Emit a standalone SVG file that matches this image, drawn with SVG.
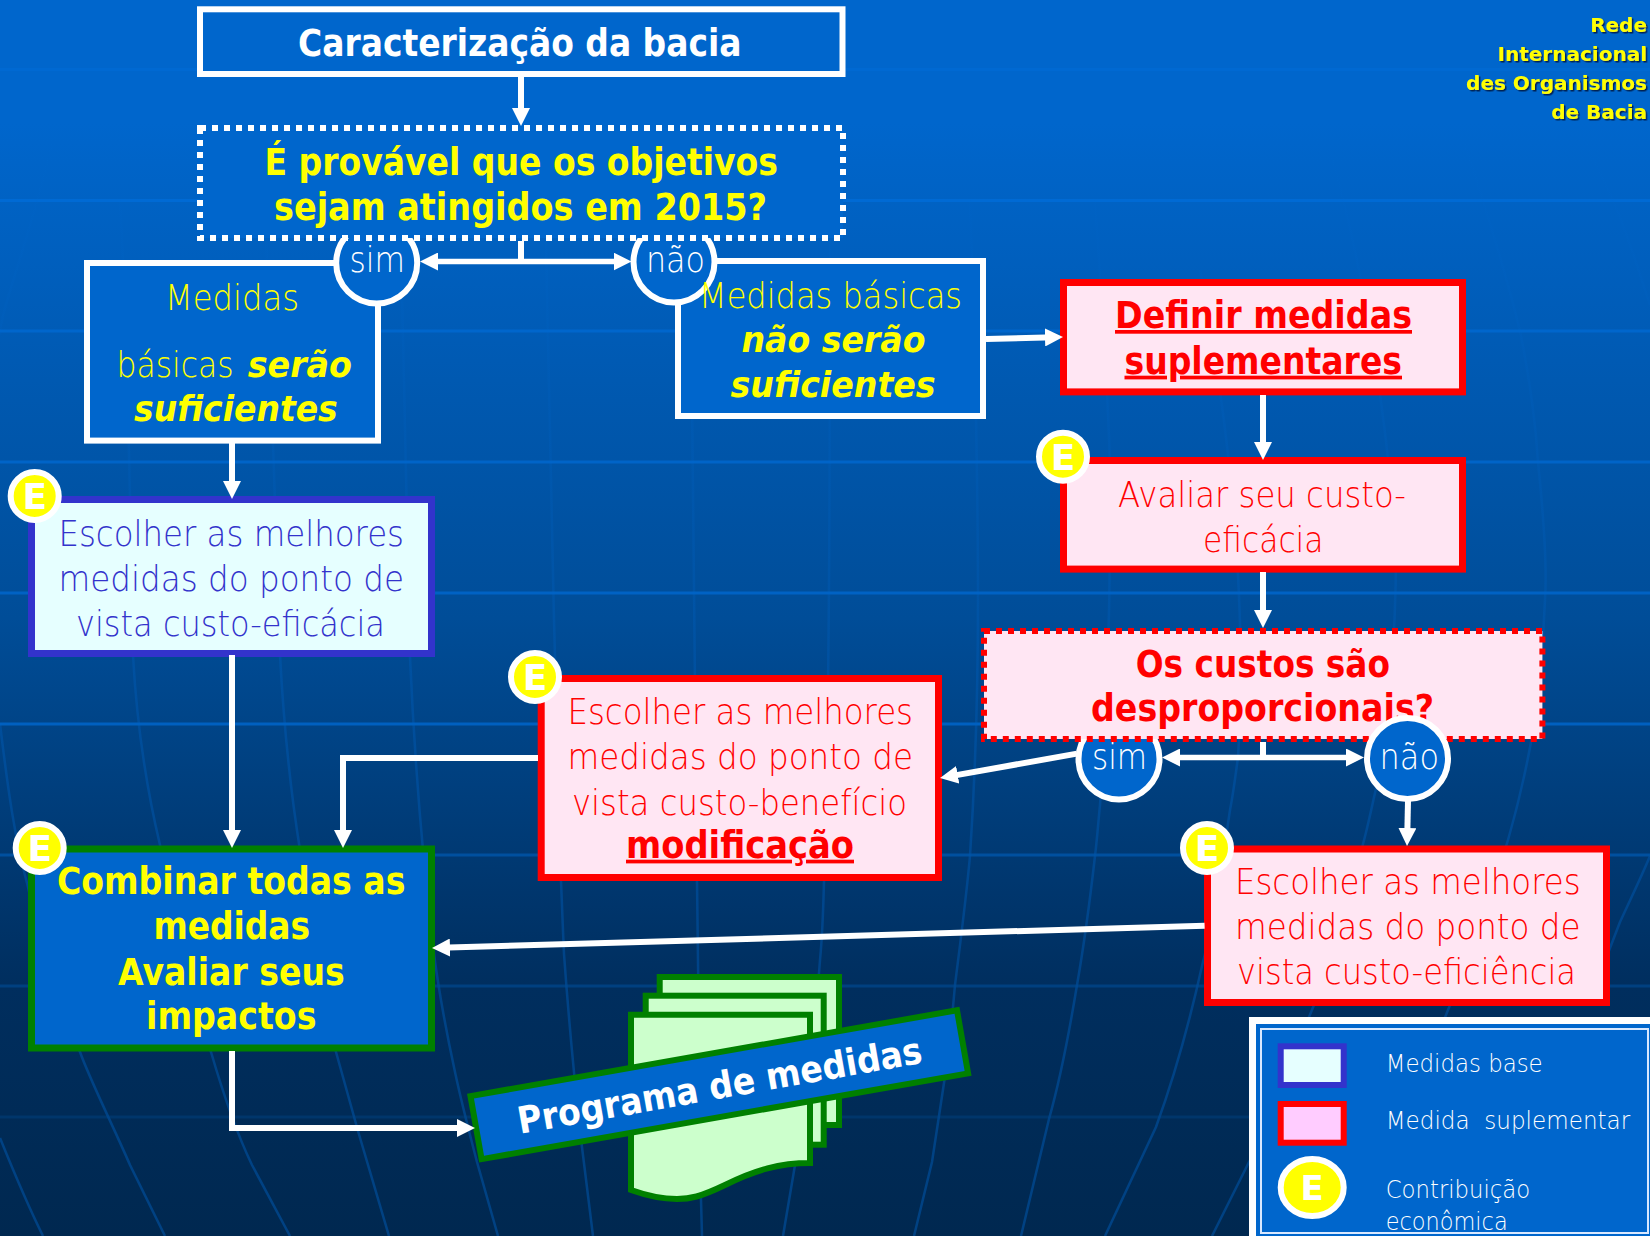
<svg xmlns="http://www.w3.org/2000/svg" width="1650" height="1236" viewBox="0 0 1650 1236">
<style>
text{font-family:"DejaVu Sans","Liberation Sans",sans-serif}
.b{font-weight:700;font-size:37px}
.l{font-weight:200;font-size:35px}
.bi{font-weight:700;font-style:italic;font-size:36px}
.w{fill:#fff}.y{fill:#ffff00}.r{fill:#ff0000}.p{fill:#3333cc}
.u{text-decoration:underline}
.bluebox{fill:#0066cc;stroke:#fff;stroke-width:6}
.redbox{fill:#ffe6f3;stroke:#ff0000;stroke-width:7}
.cir{fill:#0066cc;stroke:#fff;stroke-width:6}
.badge{fill:#ffff00;stroke:#fff;stroke-width:6}
.et{font-weight:700;font-size:36px;fill:#fff;text-anchor:middle}
.con{fill:none;stroke:#fff;stroke-width:6;stroke-linejoin:miter}
.arr{marker-end:url(#ah)}
.dbl{marker-end:url(#ah);marker-start:url(#ahs);stroke-width:5.5}
.hl{stroke-width:3;fill:none}
.mer{fill:none;stroke:url(#mg);stroke-width:2.5}
.doc{fill:#ccffcc;stroke:#008000;stroke-width:6}
.leg{font-weight:200;font-size:25px;fill:#ffffff}
.rd{font-size:20px;font-weight:700;fill:#ffff00;text-anchor:end}
</style>
<defs>
<linearGradient id="bg" x1="0" y1="0" x2="0" y2="1"><stop offset="0" stop-color="#0066cc"/><stop offset="0.1" stop-color="#0066cc"/><stop offset="0.5" stop-color="#004d98"/><stop offset="0.8" stop-color="#002e5e"/><stop offset="1" stop-color="#002850"/></linearGradient>
<linearGradient id="mg" gradientUnits="userSpaceOnUse" x1="0" y1="100" x2="0" y2="1236"><stop offset="0" stop-color="#0066cc" stop-opacity="0.05"/><stop offset="0.35" stop-color="#0066cc" stop-opacity="0.18"/><stop offset="0.55" stop-color="#0060c0" stop-opacity="0.35"/><stop offset="0.75" stop-color="#004c98" stop-opacity="0.7"/><stop offset="1" stop-color="#004488" stop-opacity="0.9"/></linearGradient>
<marker id="ah" markerUnits="userSpaceOnUse" markerWidth="18" markerHeight="18" viewBox="0 0 18 18" refX="10" refY="9" orient="auto"><path d="M0,0L18,9L0,18Z" fill="#fff"/></marker>
<marker id="ahs" markerUnits="userSpaceOnUse" markerWidth="18" markerHeight="18" viewBox="0 0 18 18" refX="8" refY="9" orient="auto"><path d="M18,0L0,9L18,18Z" fill="#fff"/></marker>
<filter id="sh" x="-5%" y="-20%" width="110%" height="140%"><feDropShadow dx="1.5" dy="1.5" stdDeviation="0.3" flood-color="#002255"/></filter>
</defs>
<rect width="1650" height="1236" fill="url(#bg)"/>
<g id="background-grid">
<path class="hl" stroke="#0069d2" d="M0,69.5H1650"/><path class="hl" stroke="#006ad4" d="M0,200.5H1650"/><path class="hl" stroke="#0066cc" d="M0,331H1650"/><path class="hl" stroke="#0064c8" d="M0,462H1650"/><path class="hl" stroke="#0062c4" d="M0,593H1650"/><path class="hl" stroke="#0060c0" d="M0,724H1650"/><path class="hl" stroke="#00509f" d="M0,855H1650"/><path class="hl" stroke="#004080" d="M0,986H1650"/><path class="hl" stroke="#00366b" d="M0,1117H1650"/>
<path class="mer" d="M54,135C30,240 0,310 0,335"/>
<path class="mer" d="M0,724C8,790 15,840 27,883C45,960 60,1010 80,1052C90,1080 115,1130 130,1165L165,1236"/>
<path class="mer" d="M0,1138C15,1175 30,1210 43,1236"/>
<path class="mer" d="M120,200C128,350 130,500 133,655C137,730 147,790 160,845C175,930 195,1010 211,1052C225,1100 240,1140 252,1165L290,1236"/>
<path class="mer" d="M265,200C272,400 276,550 280,655C284,730 292,800 300,850C312,930 325,1010 336,1052C345,1085 352,1110 358,1131L389,1236"/>
<path class="mer" d="M400,200C405,400 408,550 410,657C415,770 425,880 434,954C440,1000 447,1035 455,1072C462,1105 470,1135 477,1162L498,1236"/>
<path class="mer" d="M545,200C550,400 552,520 554,620C557,720 559,800 561,881C562,910 563,930 564,954C568,1010 574,1075 580,1131L593,1236"/>
<path class="mer" d="M690,200C693,400 695,600 697,881C698,960 699,1050 701,1200L702,1236"/>
<path class="mer" d="M830,200C830,400 830,700 824,881C823,920 822,940 820,960C815,1030 805,1110 795,1165L783,1236"/>
<path class="mer" d="M970,200C975,350 978,500 978,600C978,700 975,780 970,856C966,900 960,945 955,985C952,1020 948,1055 944,1083C940,1110 936,1135 932,1162L914,1236"/>
<path class="mer" d="M1095,200C1105,350 1112,460 1110,514C1110,650 1105,730 1100,805C1098,825 1097,840 1095,856C1090,900 1084,945 1077,985C1068,1040 1060,1080 1049,1119L1021,1236"/>
<path class="mer" d="M1200,270C1240,480 1245,650 1238,757C1235,780 1233,795 1230,810C1222,865 1214,920 1202,966C1190,1020 1175,1075 1156,1127L1105,1236"/>
<path class="mer" d="M1330,150C1370,290 1390,450 1396,553C1396,640 1388,730 1375,793C1370,815 1367,830 1363,844C1350,900 1335,950 1314,1005L1250,1160L1212,1236"/>
<path class="mer" d="M1420,0C1440,70 1450,100 1460,130C1490,220 1510,290 1520,331C1530,380 1536,430 1538,462C1545,530 1547,570 1545,600C1543,650 1538,700 1531,742C1525,775 1518,805 1508,840C1490,900 1470,950 1450,1005L1420,1080"/>
<path class="mer" d="M1540,50C1555,80 1568,105 1580,130C1592,155 1603,180 1613,200C1628,235 1640,275 1650,305"/>
<path class="mer" d="M1650,856C1640,880 1630,900 1620,922L1590,1000"/>
</g>
<g id="node-caracterizacao"><rect class="bluebox" x="200" y="9.3" width="642.5" height="64.7"/><text class="b w" x="298" y="55.5" textLength="443.5" lengthAdjust="spacingAndGlyphs">Caracterização da bacia</text></g>
<g id="node-medidas-sim"><rect class="bluebox" x="87" y="263" width="291" height="177.6"/>
<text class="l y" x="165" y="309.6" textLength="134" lengthAdjust="spacingAndGlyphs">Medidas</text>
<text class="l y" x="116.5" y="377" textLength="117" lengthAdjust="spacingAndGlyphs">básicas</text>
<text class="bi y" x="247.7" y="377" textLength="104.3" lengthAdjust="spacingAndGlyphs">serão</text>
<text class="bi y" x="134" y="421" textLength="203.7" lengthAdjust="spacingAndGlyphs">suficientes</text></g>
<g id="node-medidas-nao"><rect class="bluebox" x="678" y="261" width="305" height="155"/>
<text class="bi y" x="741.5" y="352" textLength="184" lengthAdjust="spacingAndGlyphs">não serão</text>
<text class="bi y" x="730.6" y="396.6" textLength="205" lengthAdjust="spacingAndGlyphs">suficientes</text></g>
<g id="node-sim1"><circle class="cir" cx="376.7" cy="263" r="40.5"/><text class="l w" x="349.6" y="272" textLength="55.4" lengthAdjust="spacingAndGlyphs">sim</text></g>
<g id="node-nao1"><circle class="cir" cx="674" cy="262" r="40.5"/><text class="l w" x="646" y="272" textLength="59" lengthAdjust="spacingAndGlyphs">não</text></g>
<g id="node-medidas-nao-titulo"><text class="l y" x="699" y="307.6" textLength="263" lengthAdjust="spacingAndGlyphs">Medidas básicas</text></g>
<g id="node-pergunta"><rect x="200" y="128" width="643" height="110" fill="#0066cc" stroke="#fff" stroke-width="6" stroke-dasharray="6 6"/>
<text class="b y" x="264.5" y="175" textLength="513.5" lengthAdjust="spacingAndGlyphs">É provável que os objetivos</text>
<text class="b y" x="274" y="219.5" textLength="493" lengthAdjust="spacingAndGlyphs">sejam atingidos em 2015?</text></g>
<g id="node-definir"><rect class="redbox" x="1063.5" y="282.5" width="399" height="109.4"/>
<text class="b r u" x="1115" y="328" textLength="297" lengthAdjust="spacingAndGlyphs">Definir medidas</text>
<text class="b r u" x="1124.5" y="373.7" textLength="277.5" lengthAdjust="spacingAndGlyphs">suplementares</text></g>
<g id="node-avaliar"><rect class="redbox" x="1063.5" y="460.5" width="399" height="108.6"/>
<text class="l r" x="1118" y="507" textLength="288" lengthAdjust="spacingAndGlyphs">Avaliar seu custo-</text>
<text class="l r" x="1203" y="551.6" textLength="120.5" lengthAdjust="spacingAndGlyphs">eficácia</text></g>
<g id="node-sim2"><circle class="cir" cx="1119" cy="759" r="40.5"/><text class="l w" x="1092" y="768.5" textLength="55" lengthAdjust="spacingAndGlyphs">sim</text></g>
<g id="node-custos"><rect x="984" y="631" width="558.4" height="108" fill="#ffe6f3" stroke="#ff0000" stroke-width="6" stroke-dasharray="6 6"/>
<text class="b r" x="1135.7" y="677" textLength="254.3" lengthAdjust="spacingAndGlyphs">Os custos são</text>
<text class="b r" x="1091" y="721.4" textLength="343" lengthAdjust="spacingAndGlyphs">desproporcionais?</text></g>
<g id="node-nao2"><circle class="cir" cx="1407.5" cy="758.5" r="40.5"/><text class="l w" x="1379.6" y="768.5" textLength="59.4" lengthAdjust="spacingAndGlyphs">não</text></g>
<g id="node-eficacia"><rect x="31.5" y="499.5" width="400" height="154" fill="#e6ffff" stroke="#3333cc" stroke-width="7"/>
<text class="l p" x="58.5" y="545.7" textLength="345.5" lengthAdjust="spacingAndGlyphs">Escolher as melhores</text>
<text class="l p" x="58.5" y="591" textLength="345.5" lengthAdjust="spacingAndGlyphs">medidas do ponto de</text>
<text class="l p" x="76" y="635.7" textLength="309" lengthAdjust="spacingAndGlyphs">vista custo-eficácia</text></g>
<g id="node-beneficio"><rect class="redbox" x="541.2" y="678.5" width="397.3" height="199"/>
<text class="l r" x="567.5" y="724" textLength="345.5" lengthAdjust="spacingAndGlyphs">Escolher as melhores</text>
<text class="l r" x="567.5" y="769.3" textLength="345.5" lengthAdjust="spacingAndGlyphs">medidas do ponto de</text>
<text class="l r" x="572" y="814.5" textLength="335" lengthAdjust="spacingAndGlyphs">vista custo-benefício</text>
<text class="b r u" x="626" y="857.7" textLength="228" lengthAdjust="spacingAndGlyphs">modificação</text></g>
<g id="node-eficiencia"><rect class="redbox" x="1207.5" y="849" width="399" height="153.5"/>
<text class="l r" x="1235" y="894" textLength="345.6" lengthAdjust="spacingAndGlyphs">Escolher as melhores</text>
<text class="l r" x="1235" y="939" textLength="345.6" lengthAdjust="spacingAndGlyphs">medidas do ponto de</text>
<text class="l r" x="1237" y="984" textLength="339" lengthAdjust="spacingAndGlyphs">vista custo-eficiência</text></g>
<g id="node-combinar"><rect x="31.5" y="849" width="400" height="199" fill="#0066cc" stroke="#008000" stroke-width="7"/>
<text class="b y" x="57" y="894" textLength="348.4" lengthAdjust="spacingAndGlyphs">Combinar todas as</text>
<text class="b y" x="153.4" y="939" textLength="156.6" lengthAdjust="spacingAndGlyphs">medidas</text>
<text class="b y" x="118" y="984.6" textLength="226.7" lengthAdjust="spacingAndGlyphs">Avaliar seus</text>
<text class="b y" x="146" y="1028.6" textLength="170.5" lengthAdjust="spacingAndGlyphs">impactos</text></g>
<g id="node-programa">
<rect class="doc" x="659.7" y="977" width="179.3" height="148"/>
<rect class="doc" x="645.7" y="995.7" width="178" height="149"/>
<path class="doc" d="M631,1014.7H810V1163C780,1163 755,1170 725,1185C700,1197 690,1199 677,1199C660,1199 645,1195 631,1190Z"/>
<g transform="rotate(-10 719.3 1084.7)"><rect x="472.3" y="1052.7" width="494" height="64" fill="#0066cc" stroke="#008000" stroke-width="6"/>
<text class="b w" x="514.5" y="1098.5" textLength="410" lengthAdjust="spacingAndGlyphs">Programa de medidas</text></g></g>
<g id="connectors">
<path class="con arr" d="M521,77V118"/>
<path class="con" d="M521,241V262"/>
<path class="con dbl" d="M428,261.5H623.5"/>
<path class="con arr" d="M232,443V491"/>
<path class="con arr" d="M986,339L1055,337.2"/>
<path class="con arr" d="M1263,395V452"/>
<path class="con arr" d="M1263,572V620"/>
<path class="con" d="M1263,742V757.5"/>
<path class="con dbl" d="M1170,757.5H1356"/>
<path class="con arr" d="M1077,753.6L947.9,776.6"/>
<path class="con arr" d="M1408,801L1407.2,838"/>
<path class="con arr" d="M232,655V840"/>
<path class="con arr" d="M538,758H343V840"/>
<path class="con arr" d="M232,1051V1128H467"/>
<path class="con arr" d="M1204.6,925.7L440,947.8"/>
</g>
<g id="badge-eficacia"><circle class="badge" cx="34.7" cy="496" r="24"/><text class="et" x="34.7" y="509.3">E</text></g>
<g id="badge-avaliar"><circle class="badge" cx="1063" cy="456.7" r="24"/><text class="et" x="1063" y="470">E</text></g>
<g id="badge-beneficio"><circle class="badge" cx="535" cy="677" r="24"/><text class="et" x="535" y="690.3">E</text></g>
<g id="badge-combinar"><circle class="badge" cx="39.7" cy="848" r="24"/><text class="et" x="39.7" y="861.3">E</text></g>
<g id="badge-eficiencia"><circle class="badge" cx="1207" cy="848" r="24"/><text class="et" x="1207" y="861.3">E</text></g>
<g id="node-rede" filter="url(#sh)">
<text class="rd" x="1647" y="31.6">Rede</text>
<text class="rd" x="1647" y="61">Internacional</text>
<text class="rd" x="1647" y="90">des Organismos</text>
<text class="rd" x="1647" y="118.6">de Bacia</text>
</g>
<g id="legend">
<rect x="1249" y="1017" width="410" height="230" fill="#fff"/>
<rect x="1256" y="1024" width="400" height="215" fill="#0066cc"/>
<rect x="1261" y="1029" width="387" height="204" fill="#0066cc" stroke="#d9e8ff" stroke-width="2"/>
<rect x="1280.7" y="1046.3" width="63" height="38.7" fill="#e6ffff" stroke="#3333cc" stroke-width="6"/>
<rect x="1280.7" y="1104" width="63" height="38.7" fill="#ffccff" stroke="#ff0000" stroke-width="6"/>
<ellipse class="badge" cx="1312.2" cy="1187.5" rx="31.5" ry="28.5"/>
<text class="et" x="1312.2" y="1200" style="font-size:34px">E</text>
<text class="leg" x="1385.7" y="1071.7" textLength="157" lengthAdjust="spacingAndGlyphs">Medidas base</text>
<text class="leg" x="1385.7" y="1129.3" textLength="244.5" lengthAdjust="spacingAndGlyphs" xml:space="preserve">Medida  suplementar</text>
<text class="leg" x="1385.7" y="1198" textLength="144.5" lengthAdjust="spacingAndGlyphs">Contribuição</text>
<text class="leg" x="1385.7" y="1230" textLength="122" lengthAdjust="spacingAndGlyphs">econômica</text>
</g>
</svg>
